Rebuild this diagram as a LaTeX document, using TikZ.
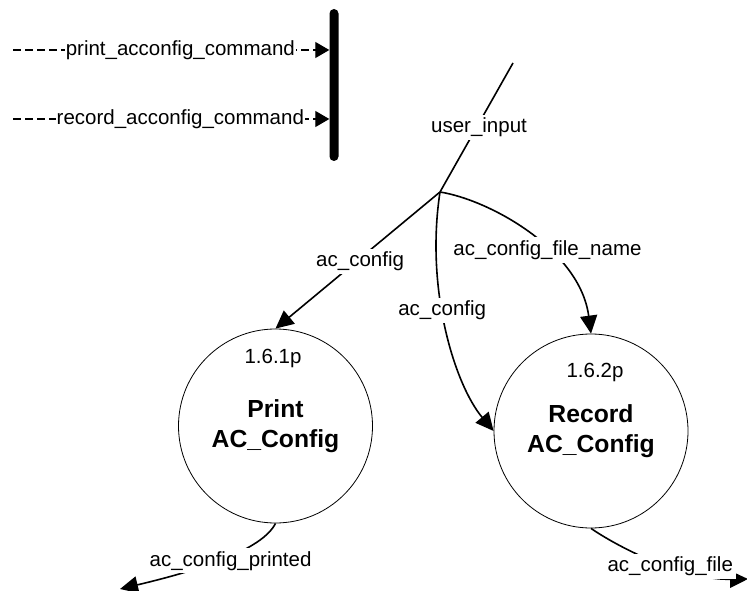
\documentclass[tikz,border=0pt]{standalone}
\usepackage{fontspec}
\setmainfont{Liberation Sans}
\usepackage{tikz}
\usetikzlibrary{arrows.meta, positioning}

\tikzset{
  proc/.style={draw, circle, minimum size=194pt, inner sep=0pt, line width=0.8pt, align=center, font=\fontsize{24.7}{30}\selectfont\bfseries},
  num/.style={inner sep=0pt, font=\fontsize{20.5}{24}\selectfont},
  lbl/.style={fill=white, inner sep=3pt, font=\fontsize{20.5}{24}\selectfont},
  cmdlbl/.style={fill=white, inner sep=1pt, font=\fontsize{20.5}{24}\selectfont},
  storebar/.style={fill, rectangle, rounded corners=4.5pt, minimum width=9pt, minimum height=152pt, inner sep=0pt},
  flow/.style={line width=1.6pt, -{Triangle[length=18pt,width=17pt]}},
  plain/.style={line width=1.6pt},
  cmd/.style={line width=1.1pt, dash pattern=on 8pt off 4pt, -{Triangle[length=14pt,width=16pt]}}
}

\begin{document}
\begin{tikzpicture}[x=1pt, y=-1pt]
				\useasboundingbox (0,0) rectangle (747,591);
				
				\node [proc] (print) at (275.5,426) {Print\\AC\_Config};
				\node [proc] (record) at (591,431) {Record\\AC\_Config};
				\node [num] (printno) at (273,358) {1.6.1p};
				\node [num] (recordno) at (595,372) {1.6.2p};
				
				\node [storebar] (bar) at (334,85) {};
				\coordinate (pcmd) at (13,50);
				\coordinate (rcmd) at (13,119);
				\draw [cmd] (pcmd) -- node [cmdlbl, pos=0.529] {print\_acconfig\_command} (pcmd -| bar.west);
				\draw [cmd] (rcmd) -- node [cmdlbl, pos=0.529] {record\_acconfig\_command} (rcmd -| bar.west);
				
				\coordinate (uin) at (513,63);
				\coordinate (hub) at (440,192);
				\draw [plain] (uin) -- node [lbl, xshift=2.5pt] {user\_input} (hub);
				\draw [flow] (hub) -- node [lbl, pos=0.51, xshift=4pt] {ac\_config} (print.north);
				\draw [flow] (hub) .. controls (425,290) and (455,385) .. node [lbl, pos=0.42] {ac\_config} (record.west);
				\draw [flow] (hub) .. controls (490,200) and (580,250) .. node [lbl, pos=0.6] {ac\_config\_file\_name} (record.north);
				
				\coordinate (pout) at (120,589);
				\coordinate (rout) at (748,579);
				\draw [flow] (print.south) .. controls (262,550) and (200,570) .. node [lbl, pos=0.45, yshift=-5pt] {ac\_config\_printed} (pout);
				\draw [flow] (record.south) .. controls (615,545) and (680,580) .. node [lbl, pos=0.6] {ac\_config\_file} (rout);
\end{tikzpicture}
\end{document}
